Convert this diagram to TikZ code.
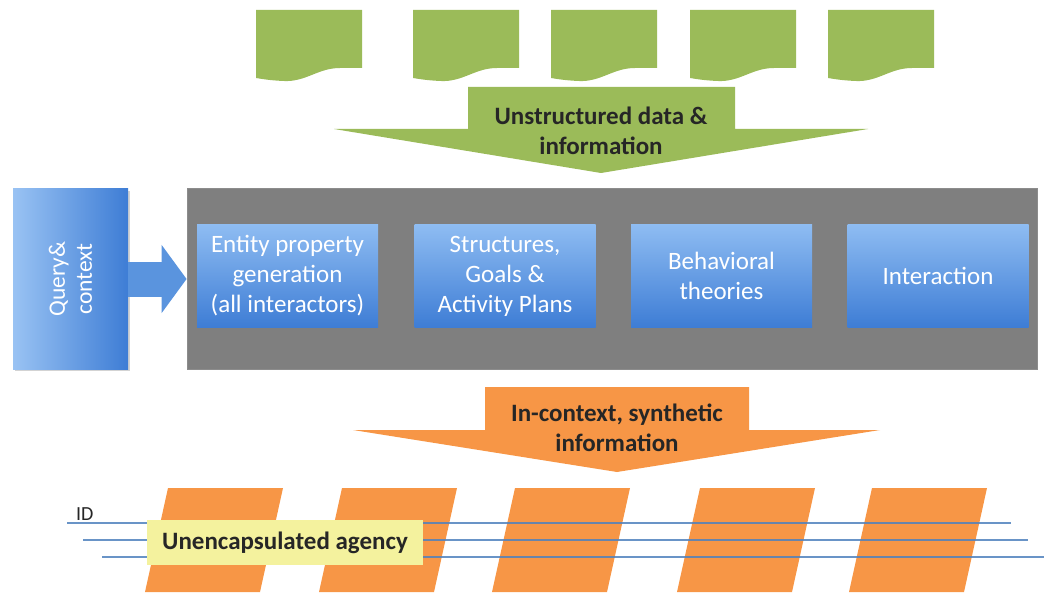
\documentclass[tikz,border=0pt]{standalone}
\usepackage{fontspec}
\setmainfont{Carlito}
\usepackage{xcolor}
\usepackage{tikz}
\usetikzlibrary{arrows.meta, positioning}
\usetikzlibrary{shadows}

\definecolor{docgreen}{HTML}{9BBB59}
\definecolor{synorange}{HTML}{F79646}
\definecolor{boxtop}{HTML}{8EBCF2}
\definecolor{boxbot}{HTML}{3E7DD5}
\definecolor{arrowblue}{HTML}{5A94DE}
\definecolor{coregray}{HTML}{7F7F7F}
\definecolor{idblue}{HTML}{4F81BD}
\definecolor{agencyyellow}{HTML}{F4F29E}
\definecolor{darktext}{HTML}{262626}

\begin{document}
\begin{tikzpicture}[x=1pt, y=-1pt,
    module/.style={minimum width=181pt, minimum height=102pt, top color=boxtop, bottom color=boxbot,
        text=white, align=center, font=\fontsize{25}{30}\selectfont,
        drop shadow={opacity=0.35, shadow xshift=2pt, shadow yshift=-2pt}},
    querybox/.style={minimum width=115pt, minimum height=180pt, left color=boxtop!90, right color=boxbot,
        drop shadow={opacity=0.35, shadow xshift=2pt, shadow yshift=-2pt}},
    corebox/.style={minimum width=850pt, minimum height=181pt, fill=coregray, draw=black!45, line width=0.8pt},
    arrowtext/.style={text=darktext, align=center, font=\bfseries\fontsize{25}{30}\selectfont},
    qarrow/.style={draw=arrowblue, line width=35pt, -{Triangle[length=25pt, width=67pt]}},
    idline/.style={draw=idblue, line width=2.2pt, opacity=0.85},
    datadoc/.pic={
        \fill[docgreen] (0,0) -- (106,0) -- (106,58) -- (84,58)
            .. controls (62,58) and (50,72) .. (28,71)
            .. controls (15,70.5) and (6,69) .. (0,68) -- cycle;
    },
    slab/.pic={
        \fill[synorange] (0,0) -- (115,0) -- (92,104) -- (-23,104) -- cycle;
    }]
    \useasboundingbox (0,0) rectangle (1044,596);

    % unstructured documents on top
    \pic at (256,10) {datadoc};
    \pic at (413,10) {datadoc};
    \pic at (551,10) {datadoc};
    \pic at (690,10) {datadoc};
    \pic at (828,10) {datadoc};

    % green block arrow
    \fill[docgreen] (468,87) -- (735,87) -- (735,129) -- (868,129) -- (601,173)
        -- (334,129) -- (468,129) -- cycle;
    \node[arrowtext] (unstructured) at (601,131) {Unstructured data \&\\information};

    % query and the core box with its modules
    \node[querybox] (query) at (70.5,279) {};
    \node[rotate=90, text=white, align=center, font=\fontsize{23.5}{27}\selectfont] (querylabel)
        at (query.center) {Query\&\\context};
    \node[corebox] (core) at (612,278.5) {};
    \draw[qarrow] (query.east) -- (query.east -| core.west);

    \node[module] (entity) at (287.5,276) {Entity property\\generation\\(all interactors)};
    \node[module] (structures) at (505,276) {Structures,\\Goals \&\\Activity Plans};
    \node[module] (behavioral) at (721.5,276) {Behavioral\\theories};
    \node[module] (interaction) at (938,276) {Interaction};

    % orange block arrow
    \fill[synorange] (485,387) -- (749,387) -- (749,430) -- (880,430) -- (617,472)
        -- (353,430) -- (485,430) -- cycle;
    \node[arrowtext] (synthetic) at (617,427.5) {In-context, synthetic\\information};

    % synthetic slabs crossed by the ID lines
    \pic at (168,488) {slab};
    \pic at (342,488) {slab};
    \pic at (515,488) {slab};
    \pic at (700,488) {slab};
    \pic at (872,488) {slab};

    \draw[idline] (67,523) -- (1011,523);
    \draw[idline] (83,540) -- (1028,540);
    \draw[idline] (102,557) -- (1044,557);

    \node[fill=agencyyellow, minimum width=276pt, minimum height=45pt, text=darktext,
        font=\bfseries\fontsize{25}{28}\selectfont] (agency) at (285,542.5) {Unencapsulated agency};
    \node[text=darktext, font=\fontsize{20}{22}\selectfont, anchor=south west, inner sep=0pt]
        (idlabel) at (76,521) {ID};
\end{tikzpicture}
\end{document}
